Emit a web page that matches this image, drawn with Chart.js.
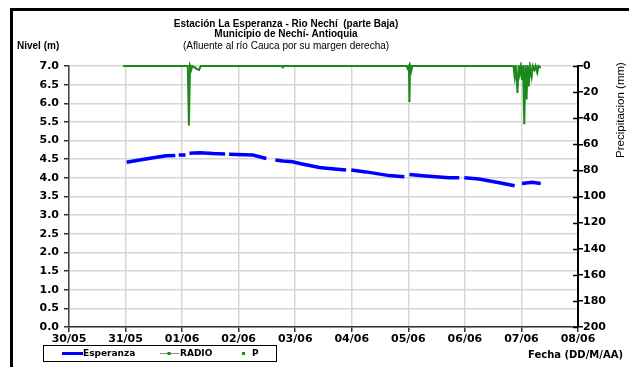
<!DOCTYPE html>
<html>
<head>
<meta charset="utf-8">
<script src="https://cdn.jsdelivr.net/npm/chart.js@4.4.1/dist/chart.umd.min.js"></script>
<style>
  html, body { margin: 0; padding: 0; background: #fff; }
  #wrap { width: 629px; height: 367px; position: relative; }
</style>
</head>
<body>
<div id="wrap"><canvas id="myChart"></canvas></div>
<script>
// dias contados desde 30/05 (0 = 30/05 00:00)
const diasEtiquetas = ['30/05', '31/05', '01/06', '02/06', '03/06', '04/06', '05/06', '06/06', '07/06', '08/06']

// Nivel (m) estacion Esperanza, null = sin dato
const nivelDias = [1.02, 1.25, 1.49, 1.72, 1.88, 1.91, 1.94, 2.06, 2.09, 2.13, 2.31, 2.55, 2.76, 2.79, 2.83, 3.1, 3.25, 3.49, 3.62, 3.65, 3.78, 3.95, 4.1, 4.43, 4.55, 4.9, 4.95, 4.99, 5.25, 5.66, 5.93, 5.97, 6.02, 6.31, 6.72, 6.9, 6.95, 6.99, 7.25, 7.61, 7.88, 7.95, 8.01, 8.19, 8.34]
const nivelValores = [4.42, 4.48, 4.54, 4.59, 4.6, null, 4.61, 4.61, null, 4.66, 4.67, 4.65, 4.64, null, 4.63, 4.62, 4.61, 4.52, null, 4.48, 4.45, 4.43, 4.38, 4.28, 4.26, 4.21, null, 4.21, 4.16, 4.06, 4.03, null, 4.09, 4.05, 4.0, 4.0, null, 4.0, 3.97, 3.87, 3.79, null, 3.85, 3.88, 3.85]

// Precipitacion (mm)
const lluviaDias = [0.97, 1.25, 1.5, 1.75, 2.0, 2.1, 2.12, 2.14, 2.16, 2.18, 2.22, 2.25, 2.3, 2.33, 2.5, 2.75, 3.0, 3.25, 3.5, 3.76, 3.78, 3.8, 4.0, 4.25, 4.5, 4.75, 5.0, 5.25, 5.5, 5.75, 5.97, 5.99, 6.01, 6.02, 6.03, 6.05, 6.07, 6.13, 6.25, 6.5, 6.75, 7.0, 7.25, 7.5, 7.75, 7.86, 7.88, 7.9, 7.93, 7.95, 7.97, 7.99, 8.01, 8.03, 8.05, 8.07, 8.09, 8.11, 8.13, 8.15, 8.18, 8.2, 8.23, 8.25, 8.28, 8.3, 8.33]
const lluviaValores = [0, 0, 0, 0, 0, 0, 45, 0, 3, 0, 1, 2, 3, 0, 0, 0, 0, 0, 0, 0, 1, 0, 0, 0, 0, 0, 0, 0, 0, 0, 0, 2, 0, 27, 0, 4, 0, 0, 0, 0, 0, 0, 0, 0, 0, 0, 8, 0, 20, 0, 6, 0, 10, 0, 44, 0, 25, 0, 15, 0, 8, 0, 3, 0, 5, 0, 1]

const nivelTicks = [0, 0.5, 1, 1.5, 2, 2.5, 3, 3.5, 4, 4.5, 5, 5.5, 6, 6.5, 7]
const lluviaTicks = [0, 20, 40, 60, 80, 100, 120, 140, 160, 180, 200]

const FONT = "'Liberation Sans', Arial, sans-serif"
const FONT_ANCHA = "'DejaVu Sans', Verdana, sans-serif"
const AZUL = '#0000ff'
const VERDE = '#1b8a1b'
const GRID = '#d6d6d6'

const nivelData = nivelDias.map((d, i) => ({ x: d, y: nivelValores[i] }))
const lluviaData = lluviaDias.map((d, i) => ({ x: d, y: lluviaValores[i] }))

// textos, marco y leyenda dibujados sobre el canvas
const extras = {
    id: 'extras',
    afterDraw(chart) {
        const c = chart.ctx
        const area = chart.chartArea
        c.save()
        c.fillStyle = '#000'
        c.textBaseline = 'middle'

        c.font = 'bold 10px ' + FONT
        c.textAlign = 'center'
        c.fillText('Estación La Esperanza - Rio Nechí  (parte Baja)', 286, 24)
        c.fillText('Municipio de Nechí- Antioquia', 286, 34)
        c.font = '10px ' + FONT
        c.fillText('(Afluente al río Cauca por su margen derecha)', 286, 46)

        c.font = 'bold 10px ' + FONT
        c.textAlign = 'left'
        c.fillText('Nivel (m)', 17, 46)
        c.font = 'bold 10px ' + FONT_ANCHA
        c.fillText('Fecha (DD/M/AA)', 528, 355)

        c.save()
        c.translate(621, 110)
        c.rotate(-Math.PI / 2)
        c.textAlign = 'center'
        c.font = '11.5px ' + FONT
        c.fillText('Precipitacion (mm)', 0, 0)
        c.restore()

        // marcas internas del eje derecho
        const y2 = chart.scales.y2
        c.strokeStyle = '#000'
        c.lineWidth = 1.5
        lluviaTicks.forEach(t => {
            const py = Math.round(y2.getPixelForValue(t)) + 0.5
            c.beginPath()
            c.moveTo(area.right - 5, py)
            c.lineTo(area.right, py)
            c.stroke()
        })

        // marco
        c.lineWidth = 3
        c.beginPath()
        c.moveTo(11.5, 367)
        c.lineTo(11.5, 9.5)
        c.lineTo(629, 9.5)
        c.stroke()

        // leyenda
        c.lineWidth = 1
        c.strokeStyle = '#000'
        c.strokeRect(43.5, 345.5, 233, 16)
        const ly = 353.5
        c.strokeStyle = AZUL
        c.lineWidth = 3
        c.beginPath(); c.moveTo(62, ly); c.lineTo(83, ly); c.stroke()
        c.strokeStyle = '#888'
        c.lineWidth = 1
        c.beginPath(); c.moveTo(160, ly); c.lineTo(179, ly); c.stroke()
        c.fillStyle = VERDE
        c.fillRect(167.5, ly - 1.5, 3, 3)
        c.fillRect(242, ly - 1.5, 3, 3)
        c.fillStyle = '#000'
        c.textAlign = 'left'
        c.font = 'bold 9px ' + FONT_ANCHA
        c.fillText('Esperanza', 83, ly + 0.5)
        c.fillText('RADIO', 180, ly + 0.5)
        c.fillText('P', 252, ly + 0.5)
        c.restore()
    }
}

const tickFont = { family: FONT_ANCHA, size: 11, weight: 'bold' }

const ctx = document.getElementById('myChart')

new Chart(ctx, {
    type: 'line',
    data: {
        datasets: [{
            label: 'Esperanza',
            data: nivelData,
            yAxisID: 'y',
            borderColor: AZUL,
            borderWidth: 3.5,
            pointRadius: 0,
            spanGaps: false,
            tension: 0,
            order: 2
        }, {
            label: 'RADIO',
            data: lluviaData,
            yAxisID: 'y2',
            borderColor: VERDE,
            backgroundColor: VERDE,
            borderWidth: 2,
            pointStyle: 'rect',
            pointRadius: 1.3,
            pointBorderWidth: 0,
            tension: 0,
            clip: 4,
            order: 1
        }, {
            label: 'P',
            data: [],
            yAxisID: 'y2',
            showLine: false,
            borderColor: VERDE,
            backgroundColor: VERDE,
            pointStyle: 'rect'
        }]
    },
    options: {
        responsive: true,
        maintainAspectRatio: false,
        animation: false,
        layout: { padding: { top: 66, left: 0, right: 0, bottom: 0 } },
        plugins: {
            legend: { display: false },
            tooltip: { enabled: false }
        },
        scales: {
            x: {
                type: 'linear',
                min: 0,
                max: 9,
                afterFit: s => { s.height = 40 },
                afterBuildTicks: s => { s.ticks = diasEtiquetas.map((_, i) => ({ value: i })) },
                ticks: {
                    callback: v => diasEtiquetas[v],
                    color: '#000',
                    font: tickFont,
                    padding: 1,
                    maxRotation: 0,
                    autoSkip: false
                },
                grid: { color: GRID, lineWidth: 1.5, tickLength: 5, tickColor: '#333' },
                border: { color: '#333', width: 1.5 }
            },
            y: {
                position: 'left',
                min: 0,
                max: 7,
                afterFit: s => { s.width = 69 },
                afterBuildTicks: s => { s.ticks = nivelTicks.map(v => ({ value: v })) },
                ticks: {
                    callback: v => v.toFixed(1),
                    color: '#000',
                    font: tickFont,
                    padding: 5
                },
                grid: { color: GRID, lineWidth: 1.5, tickLength: 5, tickColor: '#333' },
                border: { color: '#444', width: 1.5 }
            },
            y2: {
                position: 'right',
                min: 0,
                max: 200,
                reverse: true,
                afterFit: s => { s.width = 51 },
                afterBuildTicks: s => { s.ticks = lluviaTicks.map(v => ({ value: v })) },
                ticks: {
                    color: '#000',
                    font: tickFont,
                    padding: 0
                },
                grid: { drawOnChartArea: false, tickLength: 5, tickColor: '#000', lineWidth: 1.5 },
                border: { color: '#000', width: 2 }
            }
        }
    },
    plugins: [extras]
});
</script>
</body>
</html>
